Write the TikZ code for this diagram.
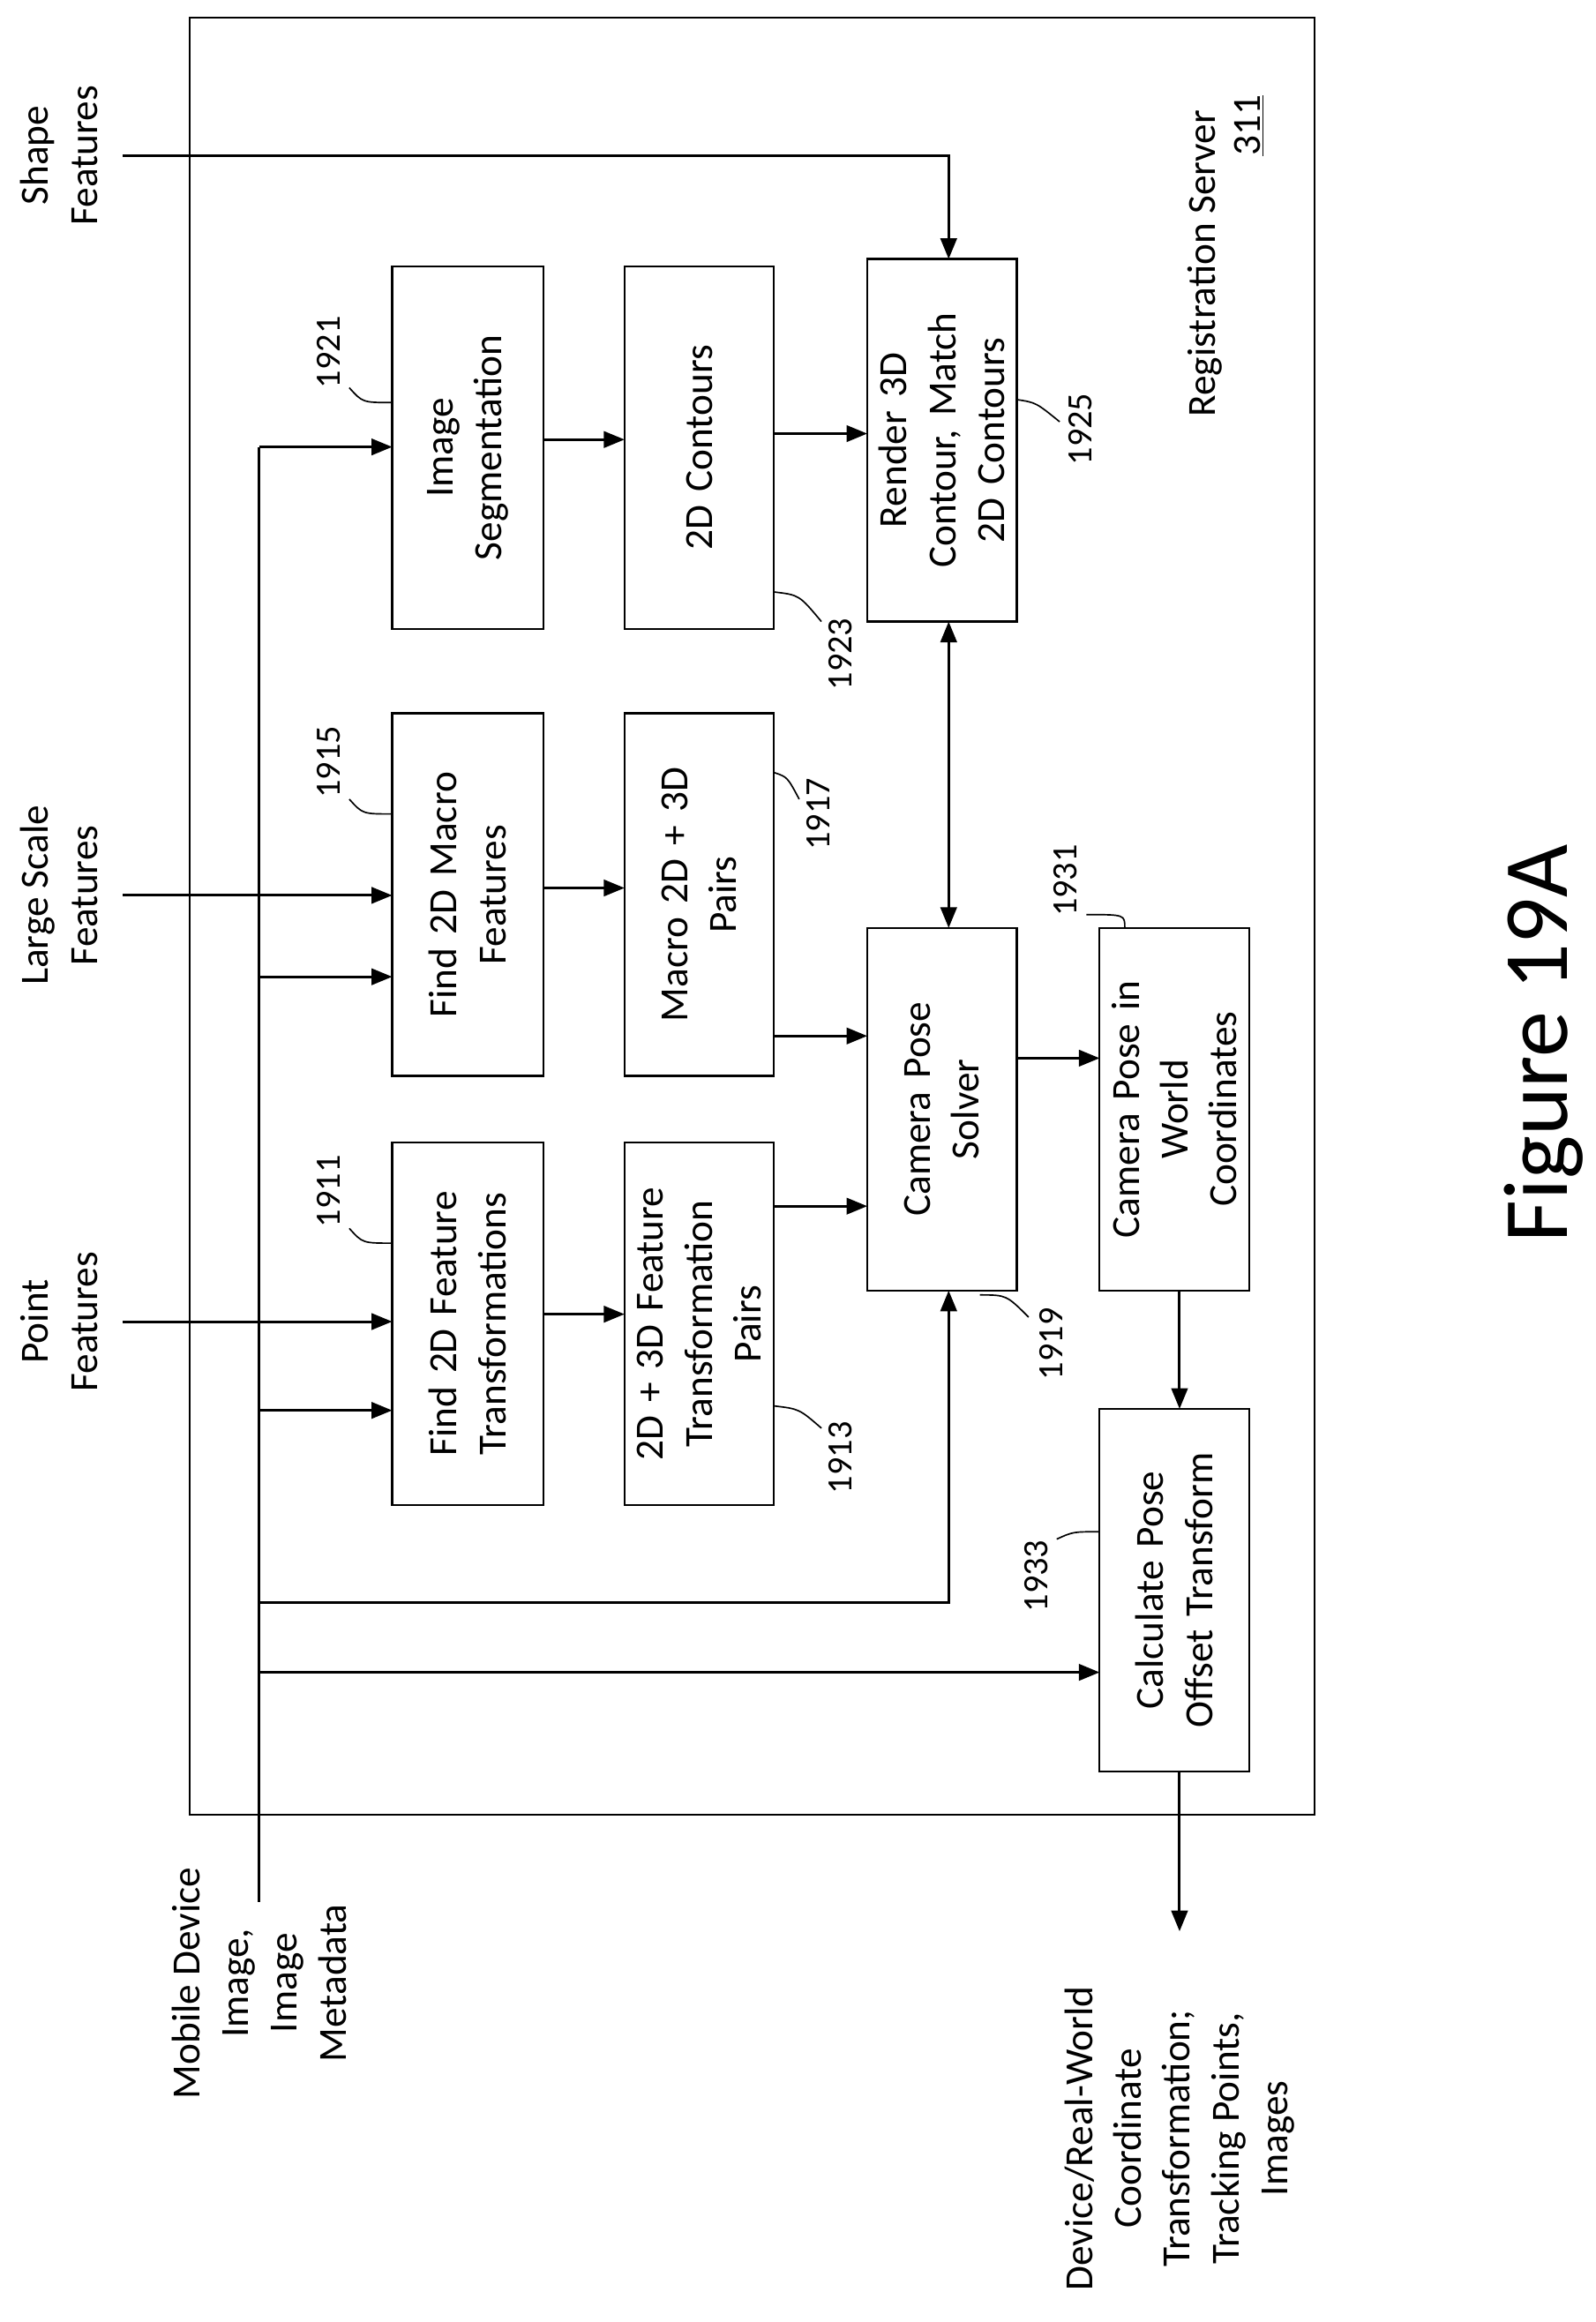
\documentclass[tikz,border=0pt]{standalone}
\usepackage{fontspec}
\setmainfont{Carlito}
\usetikzlibrary{arrows.meta}
\begin{document}
\begin{tikzpicture}[x=1pt,y=-1pt,line width=1.8pt,
  >={Triangle[length=14pt,width=11pt]},
  box/.style={draw,line width=1.3pt},
  t/.style={rotate=90,align=center,font=\fontsize{27}{33}\selectfont},
  num/.style={rotate=90,font=\fontsize{24}{28}\selectfont},
  lead/.style={line width=1pt}]
\useasboundingbox (0,0) rectangle (1078,1569);
\draw[line width=1.3pt] (128,12) rectangle (888,1226);
% boxes
\draw[box] (265,180) rectangle (367,425) node[midway,t,text width=230pt] (seg) {Image\\Segmentation};
\draw[box] (422,180) rectangle (523,425) node[midway,t,text width=230pt] (cont) {2D Contours};
\draw[box] (586,175) rectangle (687,420) node[midway,t,text width=230pt] (rend) {Render 3D\\Contour, Match\\2D Contours};
\draw[box] (265,482) rectangle (367,727) node[midway,t,text width=230pt] (fmac) {Find 2D Macro\\Features};
\draw[box] (422,482) rectangle (523,727) node[midway,t,text width=230pt] (mpair) {Macro 2D + 3D\\Pairs};
\draw[box] (265,772) rectangle (367,1017) node[midway,t,text width=230pt] (ffeat) {Find 2D Feature\\Transformations};
\draw[box] (422,772) rectangle (523,1017) node[midway,t,text width=230pt] (fpair) {2D + 3D Feature\\Transformation\\Pairs};
\draw[box] (586,627) rectangle (687,872) node[midway,t,text width=230pt] (cps) {Camera Pose\\Solver};
\draw[box] (743,627) rectangle (844,872) node[midway,t,text width=230pt] (cpw) {Camera Pose in\\World\\Coordinates};
\draw[box] (743,952) rectangle (844,1197) node[midway,t,text width=230pt] (calc) {Calculate Pose\\Offset Transform};
% input labels
\node[t] (shape) at (40,105) {Shape\\Features};
\node[t] (large) at (40,605) {Large Scale\\Features};
\node[t] (point) at (40,893) {Point\\Features};
\node[t] (mob) at (175,1340) {Mobile Device\\Image,\\Image\\Metadata};
\node[t] (out) at (797,1445) {Device/Real-World\\Coordinate\\Transformation;\\Tracking Points,\\Images};
\node[t,anchor=south] (reg) at (830,178) {Registration Server};
\node[t,anchor=north east] (n311) at (830,60) {\underline{311}};
\node[rotate=90,font=\fontsize{62}{70}\selectfont] (fig) at (1043,705) {Figure 19A};
% arrows
\coordinate (s0) at (83,105); \coordinate (s1) at (641,105);
\draw[->] (s0) -- (s1) -- (641,175);
\coordinate (l0) at (83,605); \draw[->] (l0) -- (265,605);
\coordinate (p0) at (83,893); \draw[->] (p0) -- (265,893);
\coordinate (m0) at (175,1285); \coordinate (m1) at (175,302);
\draw (m0) -- (m1);
\draw[->] (m1) -- (265,302);
\draw[->] (175,660) -- (265,660);
\draw[->] (175,953) -- (265,953);
\draw[->] (175,1083) -- (641,1083) -- (641,872);
\draw[->] (175,1130) -- (743,1130);
\draw[->] (367,297) -- (422,297);
\draw[->] (523,293) -- (586,293);
\draw[->] (367,600) -- (422,600);
\draw[->] (523,700) -- (586,700);
\draw[->] (367,888) -- (422,888);
\draw[->] (523,815) -- (586,815);
\draw[<->] (641,420) -- (641,627);
\draw[->] (687,715) -- (743,715);
\draw[->] (797,872) -- (797,952);
\draw[->] (797,1197) -- (797,1305);
% reference numbers
\node[num] (r1921) at (222,238) {1921};
\draw[lead] (236,262) .. controls (245,272) .. (265,272);
\node[num] (r1915) at (222,515) {1915};
\draw[lead] (236,540) .. controls (245,550) .. (265,550);
\node[num] (r1911) at (222,805) {1911};
\draw[lead] (236,830) .. controls (245,840) .. (265,840);
\node[num] (r1923) at (568,442) {1923};
\draw[lead] (523,400) .. controls (540,402) .. (555,420);
\node[num] (r1917) at (553,550) {1917};
\draw[lead] (523,522) .. controls (532,525) .. (540,540);
\node[num] (r1913) at (568,985) {1913};
\draw[lead] (523,950) .. controls (540,952) .. (555,965);
\node[num] (r1925) at (730,290) {1925};
\draw[lead] (687,270) .. controls (700,272) .. (716,285);
\node[num] (r1919) at (710,908) {1919};
\draw[lead] (662,875) .. controls (680,875) .. (695,890);
\node[num] (r1931) at (720,595) {1931};
\draw[lead] (760,627) .. controls (760,618) .. (734,618);
\node[num] (r1933) at (700,1065) {1933};
\draw[lead] (743,1035) .. controls (725,1035) .. (714,1040);
\end{tikzpicture}
\end{document}
